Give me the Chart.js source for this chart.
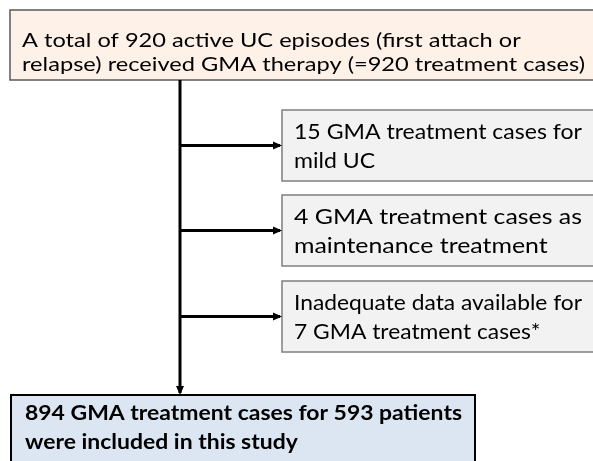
<!DOCTYPE html>
<html>
<head>
<meta charset="utf-8">
<script src="https://cdn.jsdelivr.net/npm/chart.js@4.4.1/dist/chart.umd.min.js"></script>
<style>
  html, body { margin: 0; padding: 0; background: #fff; }
  #wrap { width: 593px; height: 461px; position: relative; }
</style>
</head>
<body>
<div id="wrap"><canvas id="flow"></canvas></div>
<script>
// flow counts
const totalEpisodes = 920;
const excludedCounts = [15, 4, 7];
const includedCases = 894;
const includedPatients = 593;

// box texts (built from the counts)
const topLines = [
  `A total of ${totalEpisodes} active UC episodes (first attach or`,
  `relapse) received GMA therapy (=${totalEpisodes} treatment cases)`
];
const excludedLines = [
  [`${excludedCounts[0]} GMA treatment cases for`, 'mild UC'],
  [`${excludedCounts[1]} GMA treatment cases as`, 'maintenance treatment'],
  ['Inadequate data available for', `${excludedCounts[2]} GMA treatment cases*`]
];
const bottomLines = [
  `${includedCases} GMA treatment cases for ${includedPatients} patients`,
  'were included in this study'
];

// layout in chart units (1 unit = 1 px)
const layout = {
  top: { x: 10, y: 10, w: 600, h: 70, fill: '#fdf1e8', stroke: '#595959', lw: 1.5,
         font: '20px Lato', tx: 22, base: [37, 61], fitLine: 1, fitW: 563 },
  sides: [110, 195, 281],
  side: { x: 282, w: 330, h: 71, fill: '#f2f2f2', stroke: '#7f7f7f', lw: 1.5,
          font: '22px Lato', tx: 294, base: [29, 58], fitLine: 0, fitW: 288 },
  bottom: { x: 11, y: 395, w: 464, h: 90, fill: '#dce6f2', stroke: '#000', lw: 2,
            font: 'bold 21px Lato', tx: 25, base: [25, 54], fitLine: 0, fitW: 437 },
  trunkX: 180
};

const sideMid = layout.sides.map(y => y + layout.side.h / 2);

const connectors = [
  [{ x: layout.trunkX, y: layout.top.y + layout.top.h }, { x: layout.trunkX, y: layout.bottom.y - 2 }]
].concat(sideMid.map(y => [{ x: layout.trunkX, y: y }, { x: layout.side.x - 2, y: y }]));

const arrowTips = sideMid.map(y => ({ x: layout.side.x, y: y, dir: 'right' }))
  .concat([{ x: layout.trunkX, y: layout.bottom.y, dir: 'down' }]);

function drawBox(chart, b, y, lines) {
  const ctx = chart.ctx;
  const sx = chart.scales.x, sy = chart.scales.y;
  const x0 = sx.getPixelForValue(b.x), y0 = sy.getPixelForValue(y);
  const x1 = sx.getPixelForValue(b.x + b.w), y1 = sy.getPixelForValue(y + b.h);
  ctx.save();
  ctx.fillStyle = b.fill;
  ctx.fillRect(x0, y0, x1 - x0, y1 - y0);
  ctx.strokeStyle = b.stroke;
  ctx.lineWidth = b.lw;
  ctx.strokeRect(x0, y0, x1 - x0, y1 - y0);
  ctx.font = b.font;
  ctx.fillStyle = '#000';
  ctx.textBaseline = 'alphabetic';
  const scaleX = b.fitW / ctx.measureText(lines[b.fitLine]).width;
  lines.forEach((t, i) => {
    ctx.save();
    ctx.translate(sx.getPixelForValue(b.tx), sy.getPixelForValue(y + b.base[i]));
    ctx.scale(scaleX, 1);
    ctx.fillText(t, 0, 0);
    ctx.restore();
  });
  ctx.restore();
}

const flowPlugin = {
  id: 'flowBoxes',
  beforeDatasetsDraw(chart) {
    drawBox(chart, layout.top, layout.top.y, topLines);
    layout.sides.forEach((y, i) => drawBox(chart, layout.side, y, excludedLines[i]));
    drawBox(chart, layout.bottom, layout.bottom.y, bottomLines);
  },
  afterDatasetsDraw(chart) {
    const ctx = chart.ctx;
    const sx = chart.scales.x, sy = chart.scales.y;
    ctx.save();
    ctx.fillStyle = '#000';
    arrowTips.forEach(a => {
      const px = sx.getPixelForValue(a.x), py = sy.getPixelForValue(a.y);
      ctx.beginPath();
      if (a.dir === 'right') {
        ctx.moveTo(px, py);
        ctx.lineTo(px - 9, py - 4);
        ctx.lineTo(px - 9, py + 4);
      } else {
        ctx.moveTo(px, py);
        ctx.lineTo(px - 4, py - 9);
        ctx.lineTo(px + 4, py - 9);
      }
      ctx.closePath();
      ctx.fill();
    });
    ctx.restore();
  }
};

new Chart(document.getElementById('flow'), {
  type: 'scatter',
  data: {
    datasets: connectors.map(seg => ({
      data: seg,
      showLine: true,
      borderColor: '#000',
      borderWidth: 3,
      borderCapStyle: 'butt',
      pointRadius: 0,
      fill: false
    }))
  },
  options: {
    responsive: true,
    maintainAspectRatio: false,
    animation: false,
    layout: { padding: 0 },
    plugins: { legend: { display: false }, tooltip: { enabled: false } },
    scales: {
      x: { type: 'linear', min: 0, max: 593, display: false },
      y: { type: 'linear', min: 0, max: 461, reverse: true, display: false }
    }
  },
  plugins: [flowPlugin]
});
</script>
</body>
</html>
